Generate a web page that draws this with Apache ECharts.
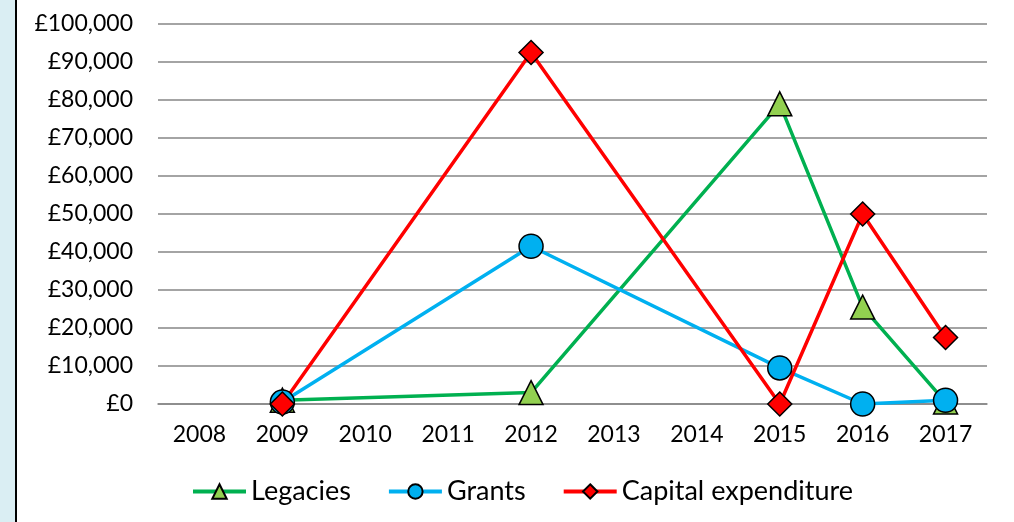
<!DOCTYPE html>
<html>
<head>
<meta charset="utf-8">
<script src="https://cdn.jsdelivr.net/npm/echarts@6/dist/echarts.min.js"></script>
<style>
  html, body { margin: 0; padding: 0; width: 1014px; height: 522px; overflow: hidden; background: #ffffff; }
  #strip { position: absolute; left: 0; top: 0; width: 15px; height: 522px; background: #daeef3; border-right: 2px solid #000; }
  #chart { position: absolute; left: 0; top: 0; width: 1014px; height: 522px; }
</style>
</head>
<body>
<div id="chart"></div>
<div id="strip"></div>
<script>
const years = ['2008', '2009', '2010', '2011', '2012', '2013', '2014', '2015', '2016', '2017'];
const legacies = [null, 1000, null, null, 3000, null, null, 79000, 25500, 500];
const grants = [null, 500, null, null, 41500, null, null, 9500, 0, 1000];
const capital = [null, 0, null, null, 92500, null, null, 0, 50000, 17500];

const FONT = 'Lato';
const chart = echarts.init(document.getElementById('chart'), null, { renderer: 'canvas' });

function series(name, data, lineColor, fill, symbol, size) {
  return {
    name: name,
    type: 'line',
    data: data,
    connectNulls: true,
    symbol: symbol,
    symbolSize: size,
    showAllSymbol: true,
    lineStyle: { color: lineColor, width: 3.5 },
    itemStyle: { color: fill, borderColor: '#000', borderWidth: 1.5 },
    emphasis: { disabled: true },
    animation: false
  };
}

chart.setOption({
  backgroundColor: '#ffffff',
  animation: false,
  grid: { left: 158, right: 27, top: 24, bottom: 118 },
  xAxis: {
    type: 'category',
    data: years,
    boundaryGap: true,
    axisLine: { show: true, lineStyle: { color: '#868686', width: 1.5 } },
    axisTick: { show: false },
    axisLabel: { color: '#000', fontFamily: FONT, fontSize: 23, margin: 19, interval: 0 }
  },
  yAxis: {
    type: 'value',
    min: 0, max: 100000, interval: 10000,
    axisLine: { show: false },
    axisTick: { show: false },
    splitLine: { lineStyle: { color: '#868686', width: 1.5 } },
    axisLabel: {
      color: '#000', fontFamily: FONT, fontSize: 23, margin: 25,
      formatter: v => '£' + v.toLocaleString('en-GB')
    }
  },
  legend: {
    left: 186,
    bottom: 12,
    itemWidth: 53,
    itemHeight: 18,
    itemGap: 36,
    lineStyle: { width: 4 },
    textStyle: { color: '#000', fontFamily: FONT, fontSize: 27 },
    data: ['Legacies', 'Grants', 'Capital expenditure']
  },
  series: [
    series('Legacies', legacies, '#00b050', '#92d050', 'triangle', 24),
    series('Grants', grants, '#00b0f0', '#00b0f0', 'circle', 24),
    series('Capital expenditure', capital, '#ff0000', '#ff0000', 'diamond', 24)
  ]
});
</script>
</body>
</html>
